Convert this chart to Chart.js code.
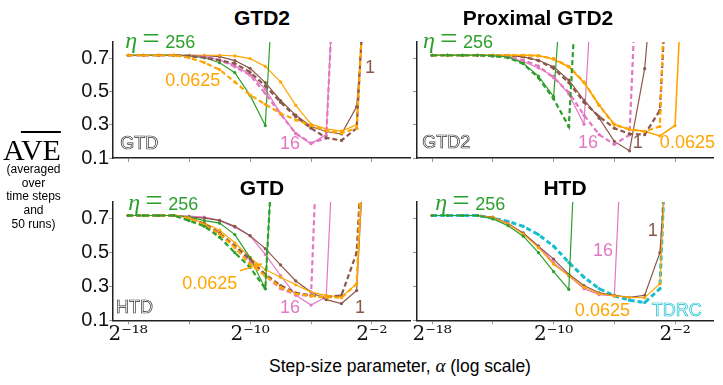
<!DOCTYPE html>
<html><head><meta charset="utf-8">
<script src="https://cdn.jsdelivr.net/npm/chart.js@4"></script>
<style>
body{margin:0;background:#fff;width:723px;height:385px;position:relative;overflow:hidden;font-family:"Liberation Sans",Arial,sans-serif;color:#000}
.c{position:absolute}
.title{position:absolute;font-weight:bold;font-size:21px;line-height:21px;transform:translateX(-50%);white-space:nowrap}
</style></head><body>
<div class="c" style="left:50px;top:30px;width:365px;height:140px"><canvas id="c1"></canvas></div>
<div class="c" style="left:380px;top:30px;width:340px;height:140px"><canvas id="c2"></canvas></div>
<div class="c" style="left:50px;top:190px;width:365px;height:160px"><canvas id="c3"></canvas></div>
<div class="c" style="left:380px;top:190px;width:340px;height:160px"><canvas id="c4"></canvas></div>
<div class="title" style="left:262px;top:7px">GTD2</div>
<div class="title" style="left:538px;top:7px">Proximal GTD2</div>
<div class="title" style="left:262px;top:177px">GTD</div>
<div class="title" style="left:565px;top:177px">HTD</div>
<div style="position:absolute;left:0;top:135px;width:64px;text-align:center;font-family:'Liberation Serif',serif;font-size:30px;line-height:30px">A<span style="text-decoration:overline;text-decoration-thickness:1.5px">VE</span></div>
<div style="position:absolute;left:0;top:163px;width:67px;text-align:center;font-size:12px;line-height:13.7px">(averaged<br>over<br>time steps<br>and<br>50 runs)</div>
<div style="position:absolute;left:400px;top:356px;transform:translateX(-50%);white-space:nowrap;font-size:17.5px;line-height:20px">Step-size parameter, <i style="font-family:'Liberation Serif',serif;font-size:19px">α</i> (log scale)</div>
<script>
// x values: exponent of the step size alpha = 2^e
const alphaExp = [-18,-17,-16,-15,-14,-13,-12,-11,-10,-9,-8,-7,-6,-5,-4,-3,-2,-1];
const xTickExps = [-18,-14,-10,-6,-2];
const xLabelExps = [-18,-10,-2];
const yTicks = [0.1,0.3,0.5,0.7];

// Panel 1: GTD2 (solid) vs GTD (dashed)
const p1_GTD2_256   = [0.72,0.72,0.72,0.72,0.716,0.705,0.675,0.615,0.478,0.296,2.0,null,null,null,null,null,null,null];
const p1_GTD2_16    = [0.72,0.72,0.72,0.72,0.715,0.71,0.692,0.657,0.604,0.516,0.369,0.247,0.186,0.241,2.2,null,null,null];
const p1_GTD2_1     = [0.72,0.72,0.72,0.72,0.72,0.718,0.712,0.688,0.641,0.555,0.447,0.359,0.29,0.26,0.245,0.41,1.6,null];
const p1_GTD2_0625  = [0.72,0.72,0.72,0.72,0.72,0.72,0.72,0.716,0.70,0.653,0.559,0.418,0.304,0.276,0.262,0.30,2.0,null];
const p1_GTD_16     = [0.72,0.72,0.72,0.72,0.716,0.71,0.691,0.65,0.60,0.49,0.365,0.248,0.19,0.22,2.2,null,null,null];
const p1_GTD_1      = [0.72,0.72,0.72,0.72,0.715,0.705,0.69,0.67,0.618,0.535,0.437,0.349,0.28,0.222,0.206,0.28,2.0,null];
const p1_GTD_0625   = [0.72,0.72,0.72,0.72,0.705,0.676,0.633,0.559,0.48,0.424,0.369,0.33,0.296,0.265,0.25,0.28,2.0,null];

// Panel 2: Proximal GTD2 (solid) vs GTD2 (dashed)
const p2_PGTD2_256  = [0.72,0.72,0.72,0.72,0.717,0.71,0.672,0.594,0.47,1.75,null,null,null,null,null,null,null,null];
const p2_PGTD2_16   = [0.72,0.72,0.72,0.72,0.718,0.71,0.682,0.643,0.594,0.486,0.304,1.9,null,null,null,null,null,null];
const p2_PGTD2_1    = [0.72,0.72,0.72,0.72,0.72,0.718,0.71,0.69,0.65,0.57,0.45,0.34,0.20,0.143,0.639,1.7,null,null];
const p2_PGTD2_0625 = [0.72,0.72,0.72,0.72,0.72,0.72,0.72,0.718,0.696,0.649,0.555,0.418,0.304,0.27,0.261,0.233,0.296,2.2];
const p2_GTD2_256   = [0.72,0.72,0.72,0.72,0.716,0.705,0.669,0.584,0.457,0.29,1.94,null,null,null,null,null,null,null];
const p2_GTD2_16    = [0.72,0.72,0.72,0.72,0.715,0.71,0.69,0.655,0.584,0.496,0.359,0.241,0.182,0.24,2.35,null,null,null];
const p2_GTD2_1     = [0.72,0.72,0.72,0.72,0.72,0.718,0.712,0.688,0.641,0.555,0.437,0.35,0.28,0.245,0.241,0.388,2.1,null];
const p2_GTD2_0625  = [0.72,0.72,0.72,0.72,0.72,0.72,0.72,0.716,0.70,0.653,0.559,0.418,0.30,0.274,0.26,0.29,2.9,null];

// Panel 3: GTD (solid) vs HTD (dashed)
const p3_GTD_256    = [0.72,0.72,0.72,0.72,0.712,0.69,0.675,0.607,0.471,0.287,2.0,null,null,null,null,null,null,null];
const p3_GTD_16     = [0.72,0.72,0.72,0.72,0.716,0.71,0.691,0.65,0.60,0.49,0.365,0.248,0.19,0.238,2.2,null,null,null];
const p3_GTD_1      = [0.72,0.72,0.72,0.72,0.71,0.705,0.691,0.656,0.601,0.524,0.428,0.333,0.267,0.222,0.199,0.276,2.0,null];
const p3_GTD_0625   = [0.72,0.72,0.72,0.72,0.705,0.676,0.633,0.559,0.471,0.40,0.355,0.31,0.267,0.248,0.238,0.315,2.0,null];
const p3_HTD_256    = [0.72,0.72,0.72,0.72,0.689,0.656,0.592,0.50,0.413,0.287,2.0,null,null,null,null,null,null,null];
const p3_HTD_16     = [0.72,0.72,0.72,0.72,0.705,0.66,0.613,0.539,0.442,0.364,0.287,0.252,0.244,2.5,null,null,null,null];
const p3_HTD_1      = [0.72,0.72,0.72,0.72,0.705,0.67,0.617,0.539,0.462,0.372,0.306,0.263,0.248,0.236,0.248,0.50,2.2,null];
const p3_HTD_0625   = [0.72,0.72,0.72,0.72,0.705,0.665,0.61,0.53,0.432,0.364,0.296,0.257,0.244,0.236,0.234,0.316,2.5,null];

// Panel 4: HTD (solid) and TDRC (dashed)
const p4_HTD_256    = [0.72,0.72,0.72,0.72,0.70,0.66,0.598,0.50,0.388,0.283,2.28,null,null,null,null,null,null,null];
const p4_HTD_16     = [0.72,0.72,0.72,0.72,0.708,0.675,0.613,0.539,0.442,0.364,0.287,0.252,0.244,2.2,null,null,null,null];
const p4_HTD_1      = [0.72,0.72,0.72,0.72,0.71,0.67,0.617,0.539,0.462,0.372,0.306,0.263,0.248,0.236,0.248,0.50,1.75,null];
const p4_HTD_0625   = [0.72,0.72,0.72,0.72,0.708,0.67,0.61,0.53,0.432,0.364,0.296,0.257,0.244,0.236,0.234,0.316,2.2,null];
const p4_TDRC       = [0.72,0.72,0.72,0.72,0.704,0.685,0.656,0.607,0.539,0.442,0.355,0.287,0.244,0.219,0.205,0.287,2.5,null];

const COL = {g:'#2ca02c', p:'#e377c2', b:'#8c564b', o:'#ffa500', c:'#17becf'};

function sup(n){const m={'-':'\u207B','0':'\u2070','1':'\u00B9','2':'\u00B2','3':'\u00B3','4':'\u2074','5':'\u2075','6':'\u2076','7':'\u2077','8':'\u2078','9':'\u2079'};return String(n).split('').map(c=>m[c]).join('');}

function notesPlugin(notes){
  return {id:'notes', afterDatasetsDraw(chart){
    const ctx=chart.ctx, sx=chart.scales.x, sy=chart.scales.y;
    ctx.save(); ctx.textAlign='left'; ctx.textBaseline='alphabetic';
    notes.forEach(n=>{
      const px=sx.getPixelForValue(n.x), py=sy.getPixelForValue(n.y);
      if(n.eta){
        ctx.fillStyle=COL.g;
        ctx.font='italic 24px "Liberation Serif"'; ctx.fillText('\u03B7',px,py);
        ctx.font='31px "Liberation Serif"'; ctx.fillText('=',px+17,py+1);
        ctx.font='18px "Liberation Sans"'; ctx.fillText('256',px+40,py);
      } else if(n.arrow){
        const qx=sx.getPixelForValue(n.x2), qy=sy.getPixelForValue(n.y2);
        ctx.strokeStyle=n.c; ctx.fillStyle=n.c; ctx.lineWidth=1.5;
        ctx.beginPath(); ctx.moveTo(px,py); ctx.lineTo(qx,qy); ctx.stroke();
        const a=Math.atan2(qy-py,qx-px), L=8, W=3.5;
        ctx.beginPath(); ctx.moveTo(qx,qy);
        ctx.lineTo(qx-L*Math.cos(a)+W*Math.sin(a), qy-L*Math.sin(a)-W*Math.cos(a));
        ctx.lineTo(qx-L*Math.cos(a)-W*Math.sin(a), qy-L*Math.sin(a)+W*Math.cos(a));
        ctx.closePath(); ctx.fill();
      } else if(n.outline){
        ctx.font='18px "Liberation Sans"'; ctx.lineWidth=0.7; ctx.strokeStyle=n.c;
        ctx.strokeText(n.t,px,py);
      } else {
        ctx.font='18px "Liberation Sans"'; ctx.fillStyle=n.c; ctx.fillText(n.t,px,py);
      }
    });
    ctx.restore();
  }};
}

function makeChart(id,cfg){
  const ds=cfg.series.map(s=>({
    data:alphaExp.map((e,i)=>({x:e,y:s.v[i]})),
    borderColor:s.c, backgroundColor:s.c, pointBackgroundColor:s.c,
    borderWidth:s.w|| (s.d?2.2:1.2), borderDash:s.d?[5,3]:[],
    pointRadius:1.6, pointBorderWidth:0, pointHoverRadius:0,
    tension:0, clip:0, spanGaps:false
  }));
  new Chart(document.getElementById(id),{
    type:'line',
    data:{datasets:ds},
    options:{
      responsive:true, maintainAspectRatio:false, animation:false, events:[],
      layout:{padding:cfg.pad},
      plugins:{legend:{display:false}, tooltip:{enabled:false}, title:{display:false}},
      scales:{
        x:{type:'linear', min:-19, max:0.5,
          afterBuildTicks:s=>{s.ticks=xTickExps.map(v=>({value:v}));},
          afterFit:s=>{s.height=cfg.xh;},
          grid:{display:true, drawOnChartArea:false, drawTicks:true, tickLength:4, color:'#999'},
          border:{display:true, color:'#222', width:1.5},
          ticks:{autoSkip:false, maxRotation:0, minRotation:0, padding:-2, color:'#111',
            font:{family:'"DejaVu Serif"', size:20},
            callback:v=> (cfg.xLab && xLabelExps.includes(v)) ? '2'+sup(v) : ''}
        },
        y:{type:'linear', min:0.1, max:0.8,
          afterBuildTicks:s=>{s.ticks=yTicks.map(v=>({value:v}));},
          afterFit:s=>{s.width=cfg.yw;},
          grid:{display:true, drawOnChartArea:false, drawTicks:true, tickLength:4, color:'#999'},
          border:{display:true, color:'#222', width:1.5},
          ticks:{padding:0, color:'#111', font:{family:'"Liberation Sans"', size:20},
            callback:v=> cfg.yLab ? v.toFixed(1) : ''}
        }
      }
    },
    plugins:[notesPlugin(cfg.notes)]
  });
}

makeChart('c1',{pad:{top:9.5,right:5,left:0,bottom:0}, xh:10.4, yw:63, xLab:false, yLab:true,
  series:[
    {v:p1_GTD_0625,c:COL.o,d:true},{v:p1_GTD_1,c:COL.b,d:true},{v:p1_GTD_16,c:COL.p,d:true},
    {v:p1_GTD2_256,c:COL.g},{v:p1_GTD2_0625,c:COL.o},{v:p1_GTD2_1,c:COL.b},{v:p1_GTD2_16,c:COL.p}
  ],
  notes:[{eta:true,x:-18.2,y:0.762},{t:'0.0625',x:-15.57,y:0.535,c:COL.o},{t:'16',x:-8.03,y:0.156,c:COL.p},
         {t:'1',x:-2.46,y:0.611,c:COL.b},{t:'GTD',x:-18.52,y:0.156,c:'#333',outline:true}]});

makeChart('c2',{pad:{top:9.5,right:7,left:0,bottom:0}, xh:10.4, yw:37, xLab:false, yLab:false,
  series:[
    {v:p2_GTD2_256,c:COL.g,d:true},{v:p2_GTD2_0625,c:COL.o,d:true},{v:p2_GTD2_1,c:COL.b,d:true},{v:p2_GTD2_16,c:COL.p,d:true},
    {v:p2_PGTD2_256,c:COL.g},{v:p2_PGTD2_0625,c:COL.o,w:1.6},{v:p2_PGTD2_1,c:COL.b},{v:p2_PGTD2_16,c:COL.p}
  ],
  notes:[{eta:true,x:-18.6,y:0.762},{t:'16',x:-8.4,y:0.162,c:COL.p},{t:'1',x:-4.78,y:0.162,c:COL.b},
         {t:'0.0625',x:-3.0,y:0.162,c:COL.o},{t:'GTD2',x:-18.66,y:0.162,c:'#333',outline:true}]});

makeChart('c3',{pad:{top:10.2,right:5,left:0,bottom:0}, xh:29.7, yw:63, xLab:true, yLab:true,
  series:[
    {v:p3_HTD_256,c:COL.g,d:true},{v:p3_HTD_0625,c:COL.o,d:true},{v:p3_HTD_1,c:COL.b,d:true},{v:p3_HTD_16,c:COL.p,d:true},
    {v:p3_GTD_256,c:COL.g},{v:p3_GTD_0625,c:COL.o},{v:p3_GTD_1,c:COL.b},{v:p3_GTD_16,c:COL.p}
  ],
  notes:[{eta:true,x:-18,y:0.755},{t:'0.0625',x:-14.46,y:0.288,c:COL.o},
         {arrow:true,x:-10.66,y:0.393,x2:-9.21,y2:0.434,c:COL.o},
         {t:'16',x:-8.03,y:0.143,c:COL.p},{t:'1',x:-3.11,y:0.143,c:COL.b},{t:'HTD',x:-18.8,y:0.143,c:'#333',outline:true}]});

makeChart('c4',{pad:{top:10.2,right:7,left:0,bottom:0}, xh:29.7, yw:37, xLab:true, yLab:false,
  series:[
    {v:p4_HTD_256,c:COL.g},{v:p4_HTD_0625,c:COL.o},{v:p4_HTD_1,c:COL.b},{v:p4_HTD_16,c:COL.p},
    {v:p4_TDRC,c:COL.c,d:true,w:3}
  ],
  notes:[{eta:true,x:-17.8,y:0.755},{t:'16',x:-7.4,y:0.481,c:COL.p},{t:'1',x:-3.8,y:0.597,c:COL.b},
         {t:'0.0625',x:-8.6,y:0.125,c:COL.o},{t:'TDRC',x:-3.53,y:0.125,c:COL.c,outline:true}]});
</script>
</body></html>
